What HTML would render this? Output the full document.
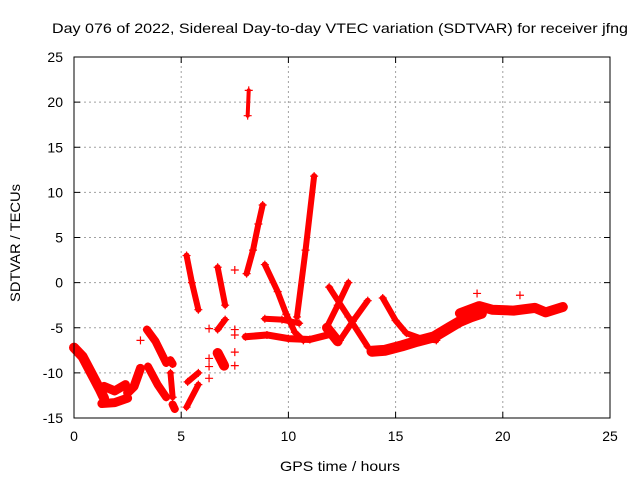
<!DOCTYPE html>
<html><head><meta charset="utf-8"><style>
body{margin:0;background:#fff}
svg{display:block;font-family:"Liberation Sans",sans-serif}
</style></head><body>
<svg id="chart" width="640" height="480">
<text x="52" y="33" font-size="14" textLength="576" lengthAdjust="spacingAndGlyphs">Day 076 of 2022, Sidereal Day-to-day VTEC variation (SDTVAR) for receiver jfng</text>
<text x="280" y="471" font-size="14" textLength="120" lengthAdjust="spacingAndGlyphs">GPS time / hours</text>
<text transform="translate(20,302) rotate(-90)" font-size="14" textLength="118" lengthAdjust="spacingAndGlyphs">SDTVAR / TECUs</text>
<g id="grid"></g><g id="marks"></g><g id="axes"></g>
</svg>
<script>
const xTicks=[0,5,10,15,20,25];
const yTicks=[25,20,15,10,5,0,-5,-10,-15];
const tracks=[
[[0,-7.2],[0.4,-8.2],[0.8,-10],[1.2,-11.8],[1.4,-12.8]],
[[1.4,-11.5],[1.9,-12],[2.4,-11.3]],
[[1.3,-13.4],[1.9,-13.3],[2.5,-12.8]],
[[2.5,-12.2],[2.8,-11.5],[3.1,-9.5]],
[[3.4,-5.2],[3.8,-6.5],[4.3,-8.9]],
[[3.45,-9.3],[3.9,-11.3],[4.3,-12.7]],
[[4.5,-8.6],[4.6,-9]],
[[4.5,-10],[4.6,-12.7]],
[[4.6,-13.5],[4.7,-14]],
[[5.25,3],[5.5,0],[5.8,-3]],
[[5.3,-11],[5.8,-10]],
[[5.25,-13.8],[5.8,-11.3]],
[[6.7,1.7],[7.05,-2.5]],
[[6.7,-5.2],[7.05,-4.1]],
[[6.7,-7.8],[7,-9.2]],
[[8.1,18.5],[8.15,21.3]],
[[8.05,1],[8.35,3.6],[8.6,6.5],[8.8,8.6]],
[[8,-6],[9,-5.8],[10,-6.2],[11,-6.3],[12,-5.7]],
[[8.9,2],[9.5,-1],[9.9,-3.5],[10.3,-5.5],[10.7,-6.4]],
[[10.4,-3.8],[10.8,3.6],[11.2,11.8]],
[[8.9,-4],[9.7,-4.1],[10.5,-4.5]],
[[11.9,-0.5],[12.8,-3.8],[13.7,-7.1]],
[[12.8,0],[12.3,-2.5],[11.8,-4.9]],
[[13.7,-2],[13,-4.3],[12.4,-6.4]],
[[11.8,-5],[12.3,-6.5]],
[[14.4,-1.7],[15,-4.2],[15.5,-5.6],[16.2,-6.2],[16.9,-6.4]],
[[13.9,-7.6],[14.5,-7.5],[15.3,-7],[16,-6.5],[16.8,-6],[17.5,-5],[18,-4.3],[18.5,-3.8],[19,-3.4]],
[[18,-3.4],[18.9,-2.6],[19.5,-3],[20.5,-3.1],[21.5,-2.8],[22,-3.3],[22.8,-2.7]]
];
const trackWidths=[10,9,9,9,8,8,8,6,8,6,6,6,6,6,10,4,6,7,6,6,6,6,6,6,10,6,11,10];
const singles=[[7.5,1.4],[6.3,-5.1],[7.5,-5.2],[7.5,-5.8],[6.3,-8.4],[6.3,-9.3],[7.5,-7.7],[7.5,-9.2],[6.3,-10.6],[18.8,-1.2],[20.8,-1.4],[3.1,-6.4]];
const X0=74,X1=610,Y0=418,Y1=57;
const sx=t=>X0+(t-0)/(25-0)*(X1-X0);
const sy=v=>Y0-(v+15)/40*(Y0-Y1);
const NS="http://www.w3.org/2000/svg";
const grid=document.getElementById('grid'),marks=document.getElementById('marks'),axes=document.getElementById('axes');
function mk(tag,attrs,parent){const e=document.createElementNS(NS,tag);for(const k in attrs)e.setAttribute(k,attrs[k]);parent.appendChild(e);return e;}
xTicks.forEach(t=>{
 if(t>0&&t<25){const g=mk('line',{x1:sx(t),x2:sx(t),y1:Y0,y2:Y1,stroke:'#a0a0a0','stroke-dasharray':'2,3'},grid);
 
 }
 mk('line',{x1:sx(t),x2:sx(t),y1:Y0,y2:Y0-6,stroke:'#000'},axes);
 mk('line',{x1:sx(t),x2:sx(t),y1:Y1,y2:Y1+6,stroke:'#000'},axes);
 const l=mk('text',{x:sx(t),y:Y0+23,'font-size':14,'text-anchor':'middle'},axes);l.textContent=t;
 
 
});
yTicks.forEach(v=>{
 if(v>-15&&v<25){const g=mk('line',{x1:X0,x2:X1,y1:sy(v),y2:sy(v),stroke:'#a0a0a0','stroke-dasharray':'2,3'},grid);
 
 }
 mk('line',{x1:X0,x2:X0+6,y1:sy(v),y2:sy(v),stroke:'#000'},axes);
 mk('line',{x1:X1,x2:X1-6,y1:sy(v),y2:sy(v),stroke:'#000'},axes);
 const l=mk('text',{x:X0-11,y:sy(v)+5,'font-size':14,'text-anchor':'end'},axes);l.textContent=v;
 
 
});
const fr=mk('rect',{x:X0,y:Y1,width:X1-X0,height:Y0-Y1,fill:'none',stroke:'#000'},axes);


function plus(t,v){const p=mk('path',{d:`M${sx(t)-4},${sy(v)}h8M${sx(t)},${sy(v)-4}v8`,stroke:'#f00','stroke-width':1.2},marks);
 
 }
tracks.forEach((tr,i)=>{
 const pl=mk('polyline',{points:tr.map(p=>sx(p[0])+','+sy(p[1])).join(' '),fill:'none',stroke:'#f00','stroke-width':trackWidths[i],'stroke-linejoin':'round','stroke-linecap':'round'},marks);
 
 
 tr.forEach(p=>plus(p[0],p[1]));
});
singles.forEach(p=>plus(p[0],p[1]));
</script>
</body></html>
